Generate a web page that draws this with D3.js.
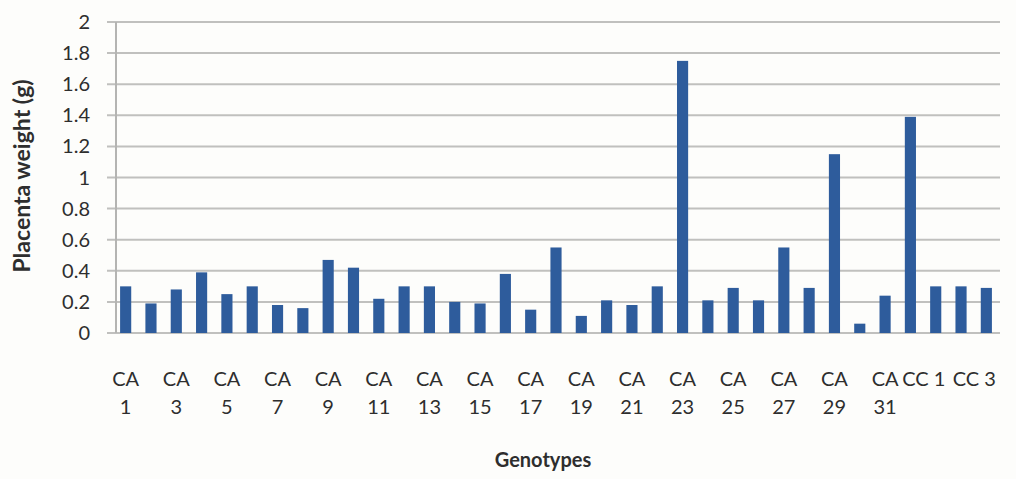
<!DOCTYPE html>
<html>
<head>
<meta charset="utf-8">
<script src="https://cdn.jsdelivr.net/npm/d3@7"></script>
<style>
  html, body { margin: 0; padding: 0; background: #fdfdfb; }
  svg { display: block; }
</style>
</head>
<body>
<svg id="chart" width="1016" height="479"></svg>
<script>
// ---- data ----
const categories = [
  "CA 1","CA 2","CA 3","CA 4","CA 5","CA 6","CA 7","CA 8","CA 9","CA 10",
  "CA 11","CA 12","CA 13","CA 14","CA 15","CA 16","CA 17","CA 18","CA 19","CA 20",
  "CA 21","CA 22","CA 23","CA 24","CA 25","CA 26","CA 27","CA 28","CA 29","CA 30",
  "CA 31","CA 32","CC 1","CC 2","CC 3"
];
const placentaWeight = [
  0.30, 0.19, 0.28, 0.39, 0.25, 0.30, 0.18, 0.16, 0.47, 0.42,
  0.22, 0.30, 0.30, 0.20, 0.19, 0.38, 0.15, 0.55, 0.11, 0.21,
  0.18, 0.30, 1.75, 0.21, 0.29, 0.21, 0.55, 0.29, 1.15, 0.06,
  0.24, 1.39, 0.30, 0.30, 0.29
];
const yTicks = [0, 0.2, 0.4, 0.6, 0.8, 1, 1.2, 1.4, 1.6, 1.8, 2];
const yTickLabels = ["0","0.2","0.4","0.6","0.8","1","1.2","1.4","1.6","1.8","2"];
const shownLabels = ["CA 1","CA 3","CA 5","CA 7","CA 9","CA 11","CA 13","CA 15","CA 17",
  "CA 19","CA 21","CA 23","CA 25","CA 27","CA 29","CA 31","CC 1","CC 3"];
const yTitle = "Placenta weight (g)";
const xTitle = "Genotypes";

// ---- layout ----
const svg = d3.select("#chart");
const font = "Lato, 'Open Sans', sans-serif";
const textColor = "#2e2e2e";
const y = d3.scaleLinear().domain([0, 2]).range([333, 22]);
const x = d3.scaleBand().domain(categories).range([113, 999]).paddingInner(0.56).paddingOuter(0.28);

// gridlines
svg.append("g").selectAll("line").data(yTicks).join("line")
  .attr("x1", 107).attr("x2", 1000)
  .attr("y1", d => y(d)).attr("y2", d => y(d))
  .attr("stroke", "#c0c0be").attr("stroke-width", 2);

// y axis line
svg.append("line").attr("x1", 116).attr("x2", 116).attr("y1", y(2)).attr("y2", y(0))
  .attr("stroke", "#b4b4b2").attr("stroke-width", 2);

// bars
svg.append("g").selectAll("rect").data(placentaWeight).join("rect")
  .attr("x", (d, i) => x(categories[i]))
  .attr("width", x.bandwidth())
  .attr("y", d => y(d))
  .attr("height", d => y(0) - y(d))
  .attr("fill", "#2e5c9c");

// y tick labels
svg.append("g").selectAll("text").data(yTicks).join("text")
  .attr("x", 90).attr("y", d => y(d) + 7)
  .attr("text-anchor", "end")
  .attr("font-family", font).attr("font-size", 20).attr("fill", textColor)
  .text((d, i) => yTickLabels[i]);

// x tick labels
const xl = svg.append("g").selectAll("text").data(shownLabels).join("text")
  .attr("font-family", font).attr("font-size", 20).attr("fill", textColor)
  .attr("text-anchor", "middle");
xl.each(function(d) {
  const t = d3.select(this);
  const cx = x(d) + x.bandwidth() / 2;
  if (d.startsWith("CA")) {
    const parts = d.split(" ");
    t.append("tspan").attr("x", cx).attr("y", 386).text(parts[0]);
    t.append("tspan").attr("x", cx).attr("y", 414).text(parts[1]);
  } else {
    t.attr("x", cx - 12).attr("y", 386).text(d);
  }
});

// axis titles
svg.append("text")
  .attr("transform", "translate(30,176) rotate(-90)")
  .attr("text-anchor", "middle")
  .attr("font-family", font).attr("font-size", 23).attr("font-weight", "bold").attr("fill", textColor)
  .text(yTitle);
svg.append("text")
  .attr("x", 543).attr("y", 467)
  .attr("text-anchor", "middle")
  .attr("font-family", font).attr("font-size", 20).attr("font-weight", "bold").attr("fill", textColor)
  .text(xTitle);
</script>
</body>
</html>
